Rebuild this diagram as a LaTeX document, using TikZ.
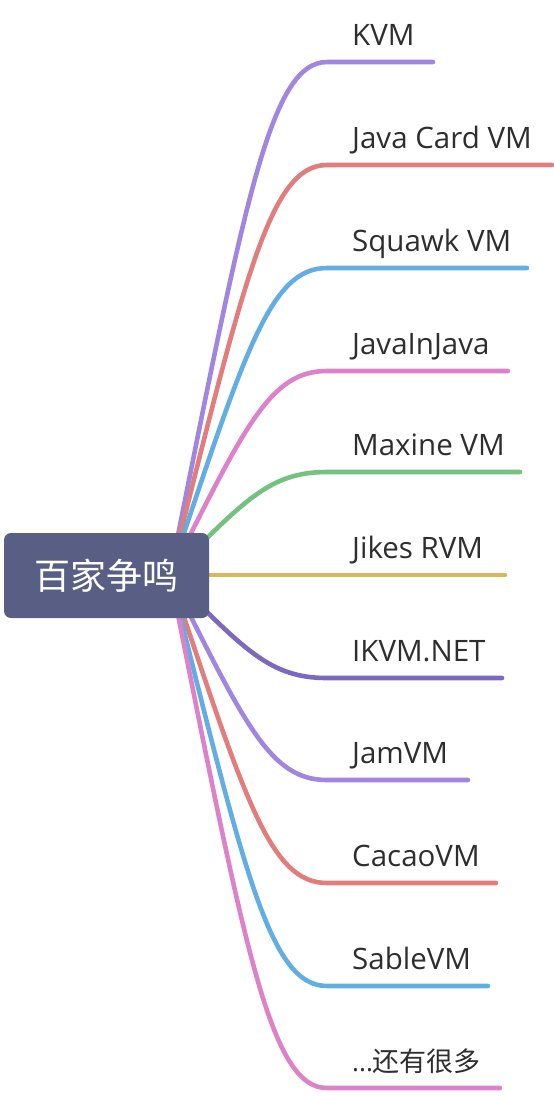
\documentclass[tikz,border=0pt]{standalone}
\usepackage{fontspec}
\setmainfont{Open Sans}
\newfontfamily\cjk{Noto Sans CJK SC}
\definecolor{rootc}{HTML}{595F84}
\definecolor{txt}{HTML}{2E2E2E}
\definecolor{cA}{HTML}{A086DF}
\definecolor{cB}{HTML}{E27D7D}
\definecolor{cC}{HTML}{62AEE2}
\definecolor{cD}{HTML}{DD82C8}
\definecolor{cE}{HTML}{75C180}
\definecolor{cF}{HTML}{DDB757}
\definecolor{cG}{HTML}{7D68C0}
\tikzset{
  branchline/.style={line width=4.6pt, line cap=round},
  leaf/.style={anchor=base west, inner sep=0pt, text=txt, font=\fontsize{29.5pt}{32pt}\selectfont},
  rootbox/.style={fill=rootc, rounded corners=7pt, minimum width=205pt, minimum height=85pt, inner sep=0pt, text=white, font=\cjk\fontsize{36pt}{38pt}\selectfont}
}
\begin{document}
\begin{tikzpicture}[x=1pt,y=-1pt]
\useasboundingbox (0,0) rectangle (554,1096);
\coordinate (s) at (170,575);
\foreach \n/\y/\xe/\c/\t in {
  a/62/433/cA/KVM,
  b/165/552/cB/Java Card VM,
  c/268/527/cC/Squawk VM,
  d/371/508/cD/JavaInJava,
  e/472/520/cE/Maxine VM,
  g/678/502/cG/IKVM.NET,
  h/780/468/cA/JamVM,
  i/883/496/cB/CacaoVM,
  j/986/488/cC/SableVM,
  k/1088/500/cD/{{\fontsize{26pt}{30pt}\selectfont...}{\cjk\fontsize{27pt}{30pt}\selectfont 还有很多}}} {
  \coordinate (c\n) at (327,\y);
  \coordinate (e\n) at (\xe,\y);
  \pgfmathsetmacro{\py}{575+0.73*(\y-575)}
  \draw[branchline, draw=\c] (s) .. controls (245,\py) and (270,\y) .. (c\n) -- (e\n);
  \node[leaf] (t\n) at (352,\y-17) {\t};
}
\coordinate (ef) at (505,575);
\draw[branchline, draw=cF] (s) -- (ef);
\node[leaf] (tf) at (352,575-17) {Jikes RVM};
\node[rootbox] (root) at (106.5,575.5) {百家争鸣};
\end{tikzpicture}
\end{document}
